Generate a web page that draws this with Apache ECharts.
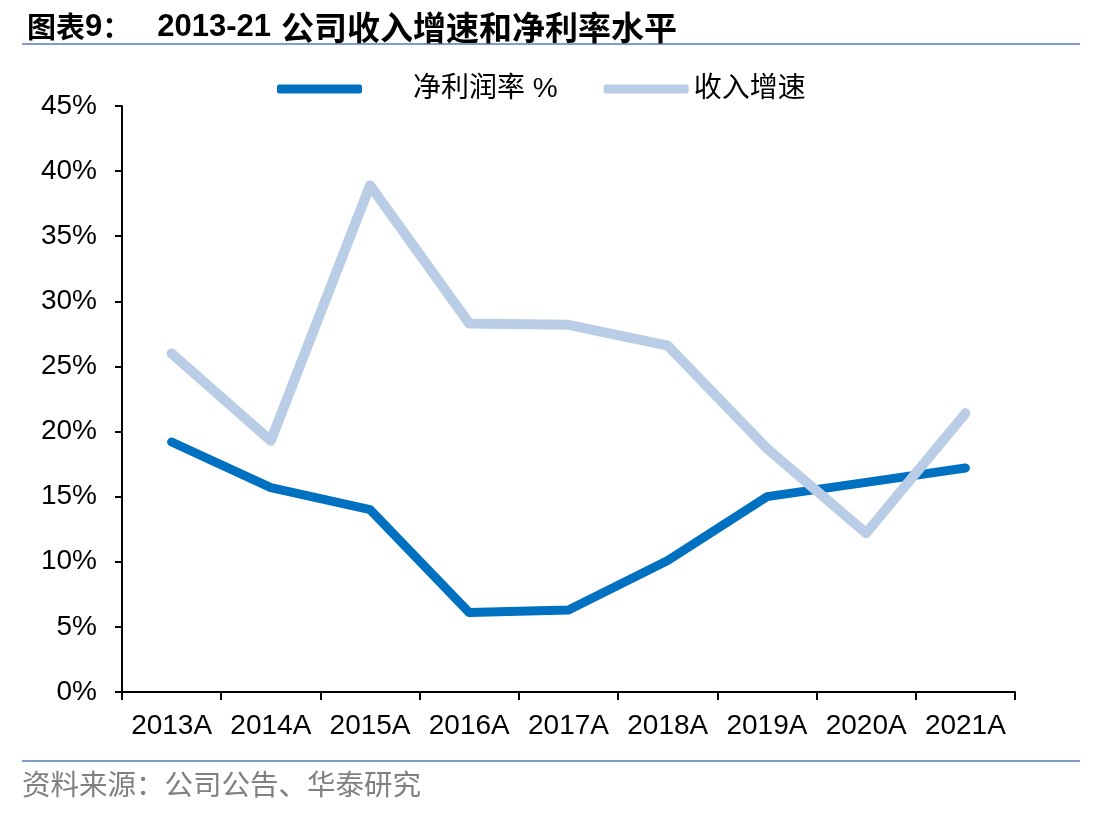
<!DOCTYPE html>
<html>
<head>
<meta charset="utf-8">
<script src="https://cdn.jsdelivr.net/npm/echarts@6/dist/echarts.min.js"></script>
<style>
  html, body { margin: 0; padding: 0; background: #fff; }
  #chart { width: 1112px; height: 816px; }
</style>
</head>
<body>
<div id="chart"></div>
<script>
const years = ["2013A", "2014A", "2015A", "2016A", "2017A", "2018A", "2019A", "2020A", "2021A"];
const netMargin = [19.2, 15.7, 14.0, 6.1, 6.3, 10.1, 15.0, 16.1, 17.2];
const revenueGrowth = [26.0, 19.3, 38.9, 28.3, 28.2, 26.6, 18.7, 12.2, 21.4];

const sourceText = "资料来源：公司公告、华泰研究";

const chart = echarts.init(document.getElementById("chart"));

const latin = "Liberation Sans, Arial, Noto Sans CJK SC, sans-serif";
const cjk = "Noto Sans CJK SC, sans-serif";

chart.setOption({
  animation: false,
  backgroundColor: "#fff",
  title: {
    // 图表9：  2013-21 公司收入增速和净利率水平
    text: "{a|图表}{b|9}{a|：}{sp1|}{b|2013-21}{sp2|}{c|公司收入增速和净利率水平}",
    left: 22,
    top: 4,
    textStyle: {
      rich: {
        a: { fontFamily: cjk, fontWeight: "bold", fontSize: 29, color: "#000", verticalAlign: "middle", lineHeight: 36 },
        b: { fontFamily: latin, fontWeight: "bold", fontSize: 31, color: "#000", verticalAlign: "middle", lineHeight: 36 },
        c: { fontFamily: cjk, fontWeight: "bold", fontSize: 33, color: "#000", verticalAlign: "middle", lineHeight: 36 },
        sp1: { width: 26 },
        sp2: { width: 10 },
      },
    },
  },
  legend: {
    left: 272,
    top: 70,
    itemWidth: 85,
    itemHeight: 9,
    itemGap: 46,
    icon: "roundRect",
    textStyle: {
      fontFamily: latin,
      fontSize: 28,
      color: "#000",
      rich: {
        pad: { width: 46 },
      },
    },
    formatter: (name) => (name === "净利润率 %" ? "{pad|}" + name : name),
  },
  grid: {
    left: 122,
    right: 97,
    top: 106,
    bottom: 124,
  },
  xAxis: {
    type: "category",
    data: years,
    boundaryGap: true,
    axisLine: { lineStyle: { color: "#000", width: 2 } },
    axisTick: { show: true, interval: 0, length: 8, lineStyle: { color: "#000", width: 2 } },
    axisLabel: {
      interval: 0,
      fontFamily: latin,
      fontSize: 28,
      color: "#000",
      margin: 20,
    },
    splitLine: { show: false },
  },
  yAxis: {
    type: "value",
    min: 0,
    max: 45,
    interval: 5,
    axisLine: { show: true, lineStyle: { color: "#000", width: 2 } },
    axisTick: { show: true, length: 7, lineStyle: { color: "#000", width: 2 } },
    axisLabel: {
      fontFamily: latin,
      fontSize: 28,
      color: "#000",
      margin: 25,
      formatter: "{value}%",
    },
    splitLine: { show: false },
  },
  series: [
    {
      name: "净利润率 %",
      type: "line",
      data: netMargin,
      symbol: "none",
      lineStyle: { color: "#0070C0", width: 9, cap: "round", join: "round" },
      itemStyle: { color: "#0070C0" },
      z: 3,
    },
    {
      name: "收入增速",
      type: "line",
      data: revenueGrowth,
      symbol: "none",
      lineStyle: { color: "#B9CDE6", width: 10, cap: "round", join: "round" },
      itemStyle: { color: "#B9CDE6" },
      z: 4,
    },
  ],
  graphic: [
    {
      type: "rect",
      left: 22,
      top: 43,
      shape: { width: 1058, height: 2 },
      style: { fill: "#7F9DC6" },
    },
    {
      type: "rect",
      left: 22,
      top: 760,
      shape: { width: 1058, height: 2 },
      style: { fill: "#7F9DC6" },
    },
    {
      type: "text",
      left: 22,
      top: 770,
      style: {
        text: sourceText,
        fontFamily: cjk,
        fontSize: 28.5,
        fill: "#808080",
      },
    },
  ],
});
</script>
</body>
</html>
